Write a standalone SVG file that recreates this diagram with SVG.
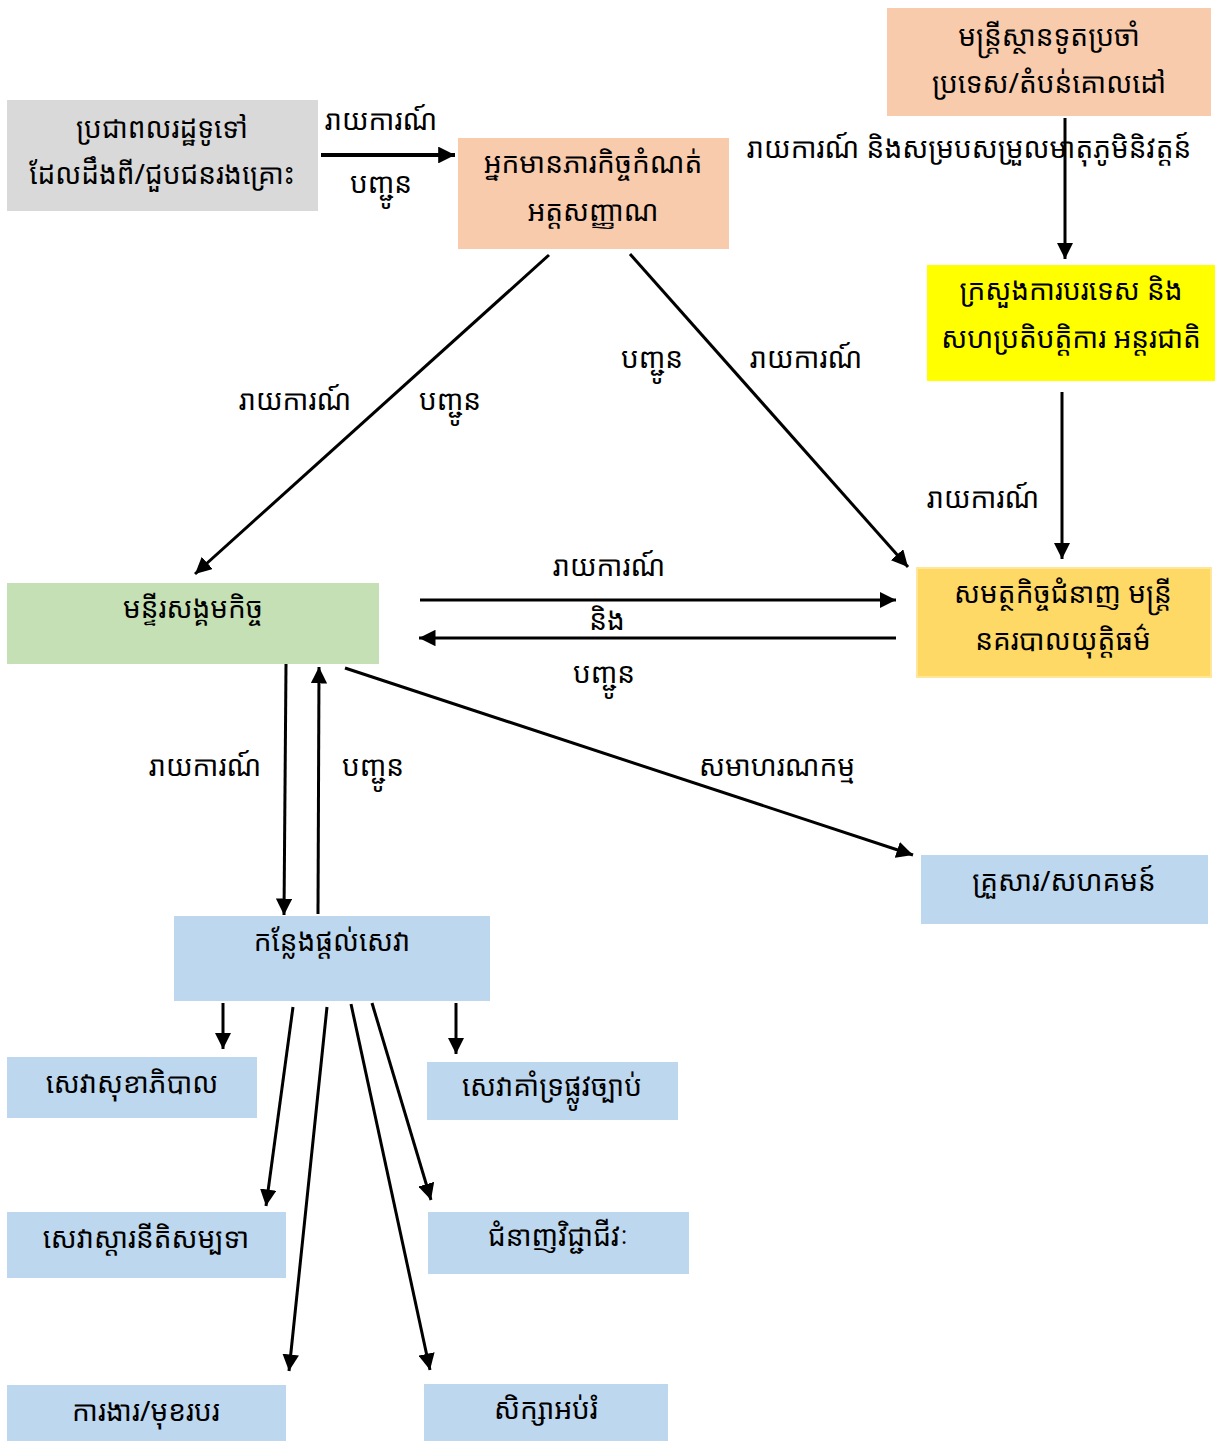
<svg xmlns="http://www.w3.org/2000/svg" width="1216" height="1441" viewBox="0 0 1216 1441">
<style>
text{font-family:"Khmer OS","Khmer OS System","Noto Sans Khmer","Noto Serif Khmer","Hanuman","Noto Sans",sans-serif;font-size:28px;fill:#000;text-anchor:middle}
.ln{stroke:#000;stroke-width:3;fill:none}
.thick{stroke-width:4}
.gray{fill:#d9d9d9}
.peach{fill:#f8cbad}
.yel{fill:#ffff00}
.gold{fill:#ffd966;stroke:#ffe699;stroke-width:2}
.green{fill:#c5e0b4}
.blue{fill:#bdd7ee}
</style>
<defs>
<marker id="ah" viewBox="0 0 10 10" refX="10" refY="5" markerWidth="5.5" markerHeight="5.5" orient="auto" markerUnits="strokeWidth">
<path d="M0,0 L10,5 L0,10 z" fill="#000"/>
</marker>
<marker id="ah2" viewBox="0 0 10 10" refX="10" refY="5" markerWidth="4.2" markerHeight="4.2" orient="auto" markerUnits="strokeWidth">
<path d="M0,0 L10,5 L0,10 z" fill="#000"/>
</marker>
</defs>
<rect width="1216" height="1441" fill="#fff"/>

<g id="connectors">
<line class="ln thick" x1="321" y1="155" x2="455" y2="155" marker-end="url(#ah2)"/>
<line class="ln" x1="1065" y1="118" x2="1065" y2="259" marker-end="url(#ah)"/>
<line class="ln" x1="1062" y1="392" x2="1062" y2="559" marker-end="url(#ah)"/>
<line class="ln" x1="549" y1="255" x2="195" y2="574" marker-end="url(#ah)"/>
<line class="ln" x1="630" y1="254" x2="908" y2="567" marker-end="url(#ah)"/>
<line class="ln" x1="420" y1="600" x2="896" y2="600" marker-end="url(#ah)"/>
<line class="ln" x1="896" y1="638" x2="419" y2="638" marker-end="url(#ah)"/>
<line class="ln" x1="345" y1="668" x2="913" y2="855" marker-end="url(#ah)"/>
<line class="ln" x1="286" y1="664" x2="284" y2="915" marker-end="url(#ah)"/>
<line class="ln" x1="318" y1="914" x2="319" y2="667" marker-end="url(#ah)"/>
<line class="ln" x1="223" y1="1003" x2="223" y2="1049" marker-end="url(#ah)"/>
<line class="ln" x1="456" y1="1003" x2="456" y2="1054" marker-end="url(#ah)"/>
<line class="ln" x1="293" y1="1007" x2="266" y2="1206" marker-end="url(#ah)"/>
<line class="ln" x1="327" y1="1007" x2="289" y2="1371" marker-end="url(#ah)"/>
<line class="ln" x1="372" y1="1003" x2="431" y2="1200" marker-end="url(#ah)"/>
<line class="ln" x1="351" y1="1004" x2="430" y2="1370" marker-end="url(#ah)"/>
<text x="381" y="130">រាយការណ៍</text>
<text x="381" y="193">បញ្ជូន</text>
<text x="969" y="158">រាយការណ៍ និងសម្របសម្រួលមាតុភូមិនិវត្តន៍</text>
<text x="983" y="508">រាយការណ៍</text>
<text x="295" y="410">រាយការណ៍</text>
<text x="450" y="410">បញ្ជូន</text>
<text x="652" y="368">បញ្ជូន</text>
<text x="806" y="368">រាយការណ៍</text>
<text x="609" y="576">រាយការណ៍</text>
<text x="607" y="630">និង</text>
<text x="604" y="683">បញ្ជូន</text>
<text x="777" y="776">សមាហរណកម្ម</text>
<text x="205" y="776">រាយការណ៍</text>
<text x="373" y="776">បញ្ជូន</text>
</g>

<g id="n-citizen"><rect class="gray" x="7" y="100" width="311" height="111"/>
<text x="162" y="138">ប្រជាពលរដ្ឋទូទៅ</text><text x="162" y="184">ដែលដឹងពី/ជួបជនរងគ្រោះ</text></g>
<g id="n-identifier"><rect class="peach" x="458" y="138" width="271" height="111"/>
<text x="593" y="173">អ្នកមានភារកិច្ចកំណត់</text><text x="593" y="221">អត្តសញ្ញាណ</text></g>
<g id="n-embassy"><rect class="peach" x="887" y="8" width="324" height="108"/>
<text x="1049" y="46">មន្ត្រីស្ថានទូតប្រចាំ</text><text x="1049" y="93">ប្រទេស/តំបន់គោលដៅ</text></g>
<g id="n-mofa"><rect class="yel" x="927" y="265" width="288" height="116"/>
<text x="1071" y="300">ក្រសួងការបរទេស និង</text><text x="1071" y="348">សហប្រតិបត្តិការ អន្តរជាតិ</text></g>
<g id="n-police"><rect class="gold" x="917" y="568" width="294" height="109"/>
<text x="1063" y="603">សមត្ថកិច្ចជំនាញ មន្ត្រី</text><text x="1063" y="650">នគរបាលយុត្តិធម៌</text></g>
<g id="n-social"><rect class="green" x="7" y="583" width="372" height="81"/>
<text x="193" y="618">មន្ទីរសង្គមកិច្ច</text></g>
<g id="n-family"><rect class="blue" x="921" y="855" width="287" height="69"/>
<text x="1064" y="891">គ្រួសារ/សហគមន៍</text></g>
<g id="n-service"><rect class="blue" x="174" y="916" width="316" height="85"/>
<text x="332" y="951">កន្លែងផ្តល់សេវា</text></g>
<g id="n-health"><rect class="blue" x="7" y="1057" width="250" height="61"/>
<text x="132" y="1093">សេវាសុខាភិបាល</text></g>
<g id="n-legal"><rect class="blue" x="427" y="1062" width="251" height="58"/>
<text x="552" y="1096">សេវាគាំទ្រផ្លូវច្បាប់</text></g>
<g id="n-rehab"><rect class="blue" x="7" y="1212" width="279" height="66"/>
<text x="146" y="1248">សេវាស្តារនីតិសម្បទា</text></g>
<g id="n-vocational"><rect class="blue" x="428" y="1212" width="261" height="62"/>
<text x="558" y="1246">ជំនាញវិជ្ជាជីវៈ</text></g>
<g id="n-job"><rect class="blue" x="7" y="1385" width="279" height="56"/>
<text x="146" y="1421">ការងារ/មុខរបរ</text></g>
<g id="n-education"><rect class="blue" x="424" y="1384" width="244" height="57"/>
<text x="546" y="1419">សិក្សាអប់រំ</text></g>
</svg>
